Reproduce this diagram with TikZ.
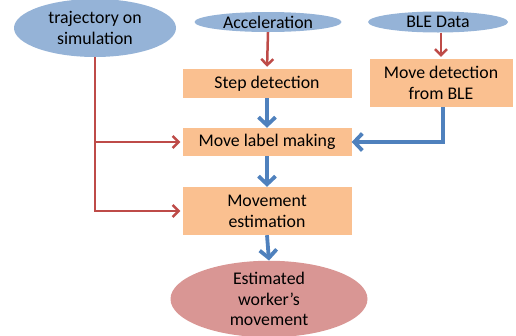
\documentclass[tikz,border=0pt]{standalone}
\usepackage{fontspec}
\setmainfont{Carlito}
\usetikzlibrary{shapes.geometric,arrows.meta}
\definecolor{ellblue}{HTML}{95B3D7}
\definecolor{boxorange}{HTML}{FAC090}
\definecolor{ellred}{HTML}{D99694}
\definecolor{linkred}{HTML}{BE4B48}
\definecolor{linkblue}{HTML}{4F81BD}

\begin{document}
\begin{tikzpicture}[x=1pt,y=-1pt,
  every node/.style={font=\fontsize{17.8}{20.8}\selectfont, align=center, inner sep=0pt, text=black},
  source/.style={ellipse, fill=ellblue},
  stage/.style={rectangle, fill=boxorange},
  result/.style={ellipse, fill=ellred},
  redlink/.style={draw=linkred, line width=2.5pt, line join=miter, shorten >=2pt,
    -{Straight Barb[length=6pt,width=12pt,line width=2.5pt]}},
  bluelink/.style={draw=linkblue, line width=3.8pt, line join=miter,
    -{Straight Barb[length=8pt,width=17pt,line width=3.8pt]}}
]
\useasboundingbox (0,0) rectangle (516,335);

% inputs
\node[source, minimum width=162pt, minimum height=58pt] (traj) at (95,28) {trajectory on\\simulation};
\node[source, minimum width=147pt, minimum height=20pt] (acc) at (268,22) {Acceleration};
\node[source, minimum width=140pt, minimum height=21pt] (ble) at (438,22) {BLE Data};

% processing stages
\node[stage, minimum width=169pt, minimum height=29pt] (step) at (267,83.5) {Step detection};
\node[stage, minimum width=143pt, minimum height=48pt] (mdb) at (441,83) {Move detection\\from BLE};
\node[stage, minimum width=169pt, minimum height=28pt] (mlm) at (267,142) {Move label making};
\node[stage, minimum width=169pt, minimum height=48pt] (mest) at (267,211) {Movement\\estimation};

% output
\node[result, minimum width=197pt, minimum height=62pt] (out) at (269,299) {Estimated\\worker’s\\movement};

% junctions on the trajectory trunk
\coordinate (j1) at (95,142);
\coordinate (j2) at (95,211);

% red connectors
\draw[redlink] (acc.south) -- (step.north);
\draw[redlink] (ble.south -| mdb.north) -- (mdb.north);
\draw[redlink] (traj.south) -- (j2) -- (mest.west);
\draw[redlink] (j1) -- (mlm.west);

% blue connectors
\draw[bluelink] (step.south) -- (mlm.north);
\draw[bluelink] ([xshift=2pt]mdb.south) |- (mlm.east);
\draw[bluelink] (mlm.south) -- (mest.north);
\draw[bluelink] (mest.south) -- (out.north);
\end{tikzpicture}
\end{document}
